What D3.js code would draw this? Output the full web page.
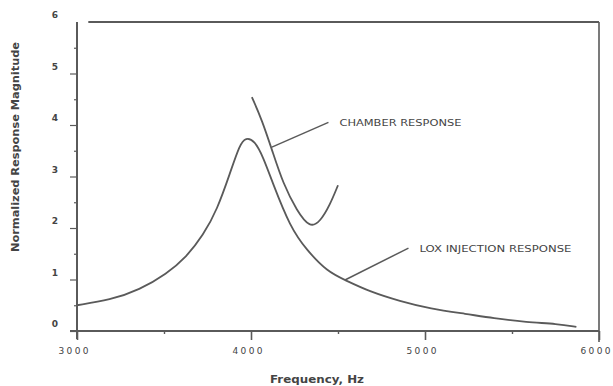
<!DOCTYPE html>
<html>
<head>
<meta charset="utf-8">
<script src="https://cdn.jsdelivr.net/npm/d3@7"></script>
<style>
  body { margin: 0; background: #fff; }
  svg { display: block; }
  text { font-family: "DejaVu Sans", sans-serif; fill: #444; }
</style>
</head>
<body>
<div id="chart"></div>
<script>
// LOX injection response (Hz, normalized magnitude)
var loxFreq = [3000, 3190, 3360, 3515, 3630, 3725, 3805, 3880, 3935, 3970, 4020, 4070, 4125, 4225, 4320, 4440, 4540, 4685, 4855, 5030, 5240, 5390, 5585, 5760, 5870];
var loxMag  = [0.50, 0.60, 0.80, 1.11, 1.44, 1.86, 2.35, 3.07, 3.62, 3.76, 3.70, 3.38, 2.87, 2.02, 1.57, 1.15, 0.99, 0.76, 0.58, 0.43, 0.33, 0.25, 0.17, 0.14, 0.08];

// chamber response
var chamberFreq = [4005, 4063, 4126, 4184, 4264, 4339, 4397, 4454, 4500];
var chamberMag  = [4.54, 4.10, 3.46, 2.87, 2.33, 2.00, 2.12, 2.45, 2.83];

// annotation leaders [freq, mag]
var chamberLeader = [[4120, 3.57], [4445, 4.05]];
var loxLeader = [[4540, 0.99], [4905, 1.61]];
var labels = ['CHAMBER RESPONSE', 'LOX INJECTION RESPONSE'];

var xTicks = [3000, 4000, 5000, 6000];
var xMinor = [3500, 4500, 5500];
var yTicks = [0, 1, 2, 3, 4, 5, 6];
var yMinor = [0.5, 1.5, 2.5, 3.5, 4.5, 5.5];

var W = 613, H = 386;
var margin = {top: 22, right: 14, bottom: 55, left: 77};
var w = W - margin.left - margin.right;
var h = H - margin.top - margin.bottom;
var ink = '#5a5a5a';

var svg = d3.select('#chart').append('svg')
    .attr('width', W)
    .attr('height', H);

var g = svg.append('g')
    .attr('transform', 'translate(' + margin.left + ',' + margin.top + ')');

var x = d3.scaleLinear().domain([3000, 6000]).range([0, w]);
var y = d3.scaleLinear().domain([0, 6]).range([h, 0]);

// x axis
var xAxis = g.append('g')
    .attr('transform', 'translate(0,' + h + ')')
    .call(d3.axisBottom(x).tickValues(xTicks).tickSize(9).tickPadding(8).tickFormat(d3.format('d')));
xAxis.select('.domain').remove();
xAxis.selectAll('line').attr('stroke', ink).attr('stroke-width', 1.6);
xAxis.selectAll('text')
    .attr('font-size', 9)
    .attr('dx', -4)
    .attr('textLength', 30)
    .attr('lengthAdjust', 'spacing');
xAxis.append('g')
    .call(d3.axisBottom(x).tickValues(xMinor).tickSize(3).tickFormat(''))
    .call(function (s) {
        s.select('.domain').remove();
        s.selectAll('line').attr('stroke', ink).attr('stroke-width', 1.4);
    });

// y axis
var yAxis = g.append('g')
    .call(d3.axisLeft(y).tickValues(yTicks).tickSize(7).tickPadding(12).tickFormat(d3.format('d')));
yAxis.select('.domain').remove();
yAxis.selectAll('line').attr('stroke', ink).attr('stroke-width', 1.2);
yAxis.selectAll('.tick').filter(function (d) { return d === 6; }).select('line').remove();
yAxis.selectAll('text').attr('font-size', 9).attr('dy', '-0.45em').attr('font-weight', 'bold');
yAxis.append('g')
    .call(d3.axisLeft(y).tickValues(yMinor).tickSize(3).tickFormat(''))
    .call(function (s) {
        s.select('.domain').remove();
        s.selectAll('line').attr('stroke', ink).attr('stroke-width', 1.2);
    });

// frame
g.append('line')
    .attr('x1', x(3000)).attr('x2', x(3000))
    .attr('y1', y(0) + 8).attr('y2', y(6))
    .attr('stroke', ink).attr('stroke-width', 2);
g.append('line')
    .attr('x1', x(3000) - 7).attr('x2', x(6000))
    .attr('y1', y(0)).attr('y2', y(0))
    .attr('stroke', ink).attr('stroke-width', 2);
g.append('line')
    .attr('x1', x(3065)).attr('x2', x(6000))
    .attr('y1', y(6)).attr('y2', y(6))
    .attr('stroke', ink).attr('stroke-width', 2.2);
g.append('line')
    .attr('x1', x(6000)).attr('x2', x(6000))
    .attr('y1', y(6)).attr('y2', y(0) + 11)
    .attr('stroke', ink).attr('stroke-width', 1.6);

// curves
var line = d3.line()
    .x(function (d) { return x(d[0]); })
    .y(function (d) { return y(d[1]); })
    .curve(d3.curveBasis);

var lox = d3.zip(loxFreq, loxMag);
var chamber = d3.zip(chamberFreq, chamberMag);

g.selectAll('path.curve')
    .data([lox, chamber])
    .enter()
    .append('path')
    .attr('class', 'curve')
    .attr('d', line)
    .attr('fill', 'none')
    .attr('stroke', ink)
    .attr('stroke-width', 1.8);

// leaders and labels
var straight = d3.line()
    .x(function (d) { return x(d[0]); })
    .y(function (d) { return y(d[1]); });

g.selectAll('path.leader')
    .data([chamberLeader, loxLeader])
    .enter()
    .append('path')
    .attr('class', 'leader')
    .attr('d', straight)
    .attr('fill', 'none')
    .attr('stroke', ink)
    .attr('stroke-width', 1.5);

var labelWidth = [122, 152];
g.selectAll('text.note')
    .data([chamberLeader, loxLeader])
    .enter()
    .append('text')
    .attr('class', 'note')
    .attr('x', function (d) { return x(d[1][0]) + 11; })
    .attr('y', function (d) { return y(d[1][1]) + 4; })
    .attr('font-size', 9)
    .attr('textLength', function (d, i) { return labelWidth[i]; })
    .attr('lengthAdjust', 'spacingAndGlyphs')
    .text(function (d, i) { return labels[i]; });

// axis titles
svg.append('text')
    .attr('transform', 'translate(19,147) rotate(-90)')
    .attr('text-anchor', 'middle')
    .attr('font-size', 10)
    .attr('font-weight', 'bold')
    .attr('textLength', 210)
    .attr('lengthAdjust', 'spacingAndGlyphs')
    .text('Normalized Response Magnitude');

svg.append('text')
    .attr('x', 317)
    .attr('y', 383)
    .attr('text-anchor', 'middle')
    .attr('font-size', 10)
    .attr('font-weight', 'bold')
    .attr('textLength', 94)
    .attr('lengthAdjust', 'spacingAndGlyphs')
    .text('Frequency, Hz');
</script>
</body>
</html>
